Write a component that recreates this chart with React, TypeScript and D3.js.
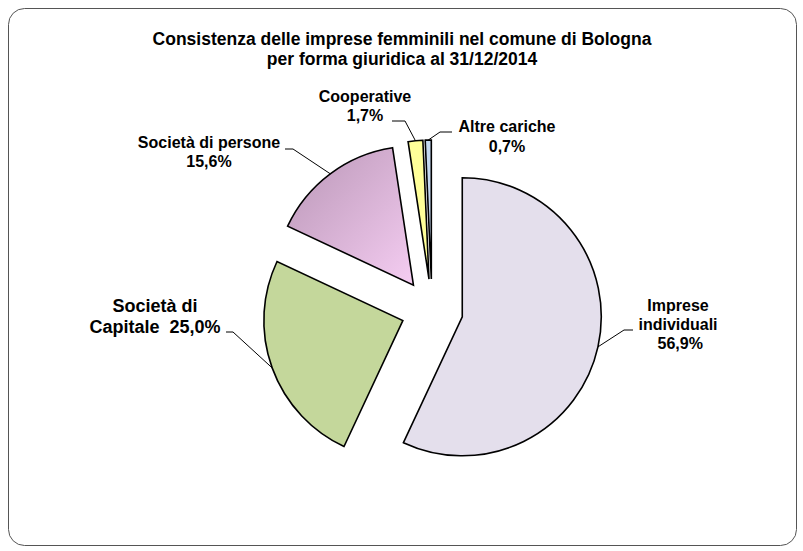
import React from "react";
import * as d3 from "d3";

const TITLE_LINES = [
  "Consistenza delle imprese femminili nel comune di Bologna",
  "per forma giuridica al 31/12/2014",
];

const CATEGORIES = [
  "Imprese individuali",
  "Società di Capitale",
  "Società di persone",
  "Cooperative",
  "Altre cariche",
];
const VALUES = [56.9, 25.0, 15.6, 1.7, 0.7];
const VALUE_LABELS = ["56,9%", "25,0%", "15,6%", "1,7%", "0,7%"];

// label text lines per slice
const LABEL_LINES = [
  ["Imprese", "individuali", " " + VALUE_LABELS[0]],
  ["Società di", "Capitale  " + VALUE_LABELS[1]],
  ["Società di persone", VALUE_LABELS[2]],
  ["Cooperative", VALUE_LABELS[3]],
  ["Altre cariche", VALUE_LABELS[4]],
];

const COLORS = ["#e4dfec", "#c4d79b", "url(#pinkGrad)", "#ffff99", "#c5d9f1"];

// layout: label anchor, baselines, leader elbow/end points
const LABEL_LAYOUT = [
  { x: 678, y: [311, 330, 349], size: 16, elbow: [624, 330], end: [633, 330] },
  { x: 155, y: [312, 333], size: 18, elbow: [233, 332], end: [226, 332] },
  { x: 209, y: [148, 167], size: 16, elbow: [293, 149], end: [285, 149] },
  { x: 365, y: [102, 121], size: 16, elbow: [405, 121], end: [392, 121] },
  { x: 507, y: [132, 152], size: 16, elbow: [440, 132], end: [452, 132] },
];

const W = 803;
const H = 551;
const CX = 432;
const CY = 310;
const R = 139;
const EXPLODE = 31;

export default function App() {
  const pie = d3
    .pie<number>()
    .sort(null)
    .value((d) => d)
    .startAngle(0)
    .endAngle(2 * Math.PI);
  const arcs = pie(VALUES);
  const arcGen = d3.arc<d3.PieArcDatum<number>>().innerRadius(0).outerRadius(R);

  const font = "'Liberation Sans', Arial, sans-serif";

  return (
    <svg
      width={W}
      height={H}
      style={{ position: "absolute", left: 0, top: 0, background: "#fff" }}
    >
      <defs>
        <linearGradient id="pinkGrad" x1="0" y1="0" x2="1" y2="1">
          <stop offset="0%" stopColor="#b996b6" />
          <stop offset="100%" stopColor="#f5cdf2" />
        </linearGradient>
      </defs>
      <rect
        x={8.5}
        y={8.5}
        width={788}
        height={537}
        rx={16}
        ry={16}
        fill="#fff"
        stroke="#555"
        strokeWidth={1}
      />
      {TITLE_LINES.map((t, i) => (
        <text
          key={i}
          x={402}
          y={45 + i * 20}
          textAnchor="middle"
          fontFamily={font}
          fontWeight="bold"
          fontSize={17.5}
          fill="#000"
        >
          {t}
        </text>
      ))}
      {arcs.map((a, i) => {
        const mid = (a.startAngle + a.endAngle) / 2;
        const dx = Math.sin(mid) * EXPLODE;
        const dy = -Math.cos(mid) * EXPLODE;
        const ox = CX + dx;
        const oy = CY + dy;
        const px = ox + Math.sin(mid) * R;
        const py = oy - Math.cos(mid) * R;
        const L = LABEL_LAYOUT[i];
        return (
          <g key={CATEGORIES[i]}>
            <path
              d={arcGen(a) || ""}
              transform={`translate(${ox},${oy})`}
              fill={COLORS[i]}
              stroke="#000"
              strokeWidth={1.6}
              strokeLinejoin="miter"
            />
            <polyline
              points={`${px},${py} ${L.elbow[0]},${L.elbow[1]} ${L.end[0]},${L.end[1]}`}
              fill="none"
              stroke="#000"
              strokeWidth={1}
            />
            <text
              textAnchor="middle"
              fontFamily={font}
              fontWeight="bold"
              fontSize={L.size}
              fill="#000"
              style={{ whiteSpace: "pre" }}
            >
              {LABEL_LINES[i].map((ln, j) => (
                <tspan key={j} x={L.x} y={L.y[j]}>
                  {ln}
                </tspan>
              ))}
            </text>
          </g>
        );
      })}
    </svg>
  );
}
